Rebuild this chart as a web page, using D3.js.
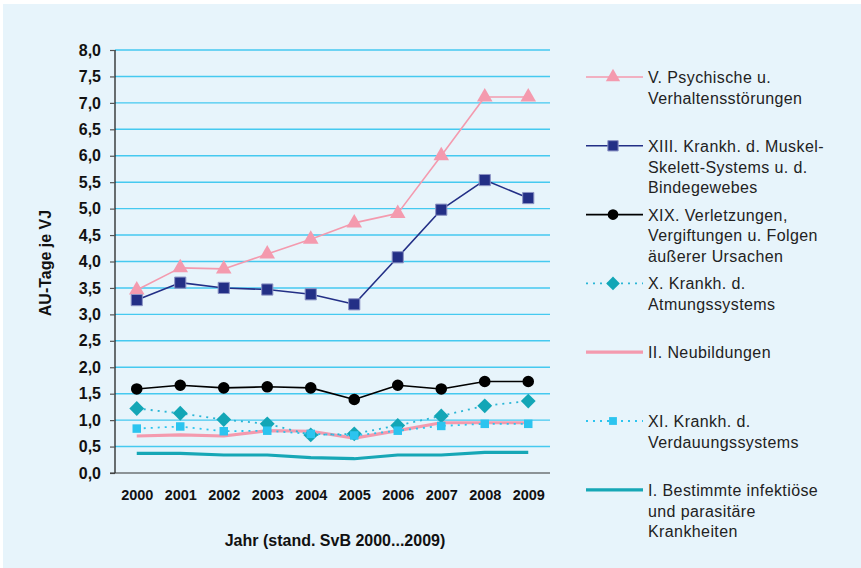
<!DOCTYPE html>
<html>
<head>
<meta charset="utf-8">
<script src="https://cdn.jsdelivr.net/npm/d3@7"></script>
<style>
  body { margin: 0; background: #ffffff; }
  svg { display: block; font-family: Arial, "Liberation Sans", sans-serif; }
</style>
</head>
<body>
<div id="chart"></div>
<script>
// data
var years = ["2000", "2001", "2002", "2003", "2004", "2005", "2006", "2007", "2008", "2009"];
var yTicks = [0, 0.5, 1, 1.5, 2, 2.5, 3, 3.5, 4, 4.5, 5, 5.5, 6, 6.5, 7, 7.5, 8];

var psychisch = [3.46, 3.88, 3.86, 4.14, 4.42, 4.73, 4.91, 6.0, 7.11, 7.11];
var muskelSkelett = [3.27, 3.60, 3.50, 3.47, 3.38, 3.19, 4.08, 4.98, 5.54, 5.20];
var verletzungen = [1.59, 1.66, 1.61, 1.63, 1.61, 1.39, 1.66, 1.59, 1.73, 1.73];
var atmung = [1.22, 1.13, 1.01, 0.93, 0.72, 0.74, 0.90, 1.08, 1.27, 1.36];
var neubildungen = [0.70, 0.72, 0.70, 0.80, 0.79, 0.66, 0.80, 0.95, 0.95, 0.95];
var verdauung = [0.84, 0.88, 0.79, 0.80, 0.74, 0.71, 0.80, 0.89, 0.93, 0.93];
var infektioes = [0.37, 0.37, 0.34, 0.34, 0.29, 0.27, 0.34, 0.34, 0.39, 0.39];

var legendLabels = [
  ["V. Psychische u.", "Verhaltensstörungen"],
  ["XIII. Krankh. d. Muskel-", "Skelett-Systems u. d.", "Bindegewebes"],
  ["XIX. Verletzungen,", "Vergiftungen u. Folgen", "äußerer Ursachen"],
  ["X. Krankh. d.", "Atmungssystems"],
  ["II. Neubildungen"],
  ["XI. Krankh. d.", "Verdauungssystems"],
  ["I. Bestimmte infektiöse", "und parasitäre", "Krankheiten"]
];

// series styles, in legend order
var series = [
  { values: psychisch, color: "#f49aae", width: 1.6, dash: null, symbol: d3.symbolTriangle, size: 105, rotate: 0, stroke: null },
  { values: muskelSkelett, color: "#232f86", width: 1.6, dash: null, symbol: d3.symbolSquare, size: 125, rotate: 0, stroke: "#8c93c4" },
  { values: verletzungen, color: "#000000", width: 1.6, dash: null, symbol: d3.symbolCircle, size: 105, rotate: 0, stroke: null },
  { values: atmung, color: "#13a6b6", lineColor: "#2bb6d6", width: 1.8, dash: "2,5", symbol: d3.symbolSquare, size: 110, rotate: 45, stroke: null },
  { values: neubildungen, color: "#f49aae", width: 3.2, dash: null, symbol: null },
  { values: verdauung, color: "#2cc4ef", lineColor: "#2cc4ef", width: 1.8, dash: "2,5", symbol: d3.symbolSquare, size: 72, rotate: 0, stroke: null },
  { values: infektioes, color: "#16a7b6", width: 3.2, dash: null, symbol: null }
];

var W = 861, H = 568;
var svg = d3.select("#chart").append("svg").attr("width", W).attr("height", H);

svg.append("rect").attr("x", 3).attr("y", 4).attr("width", W - 3).attr("height", H - 4).attr("fill", "#e7f4fb");

var x = d3.scalePoint().domain(years).range([115, 550]).padding(0.5);
var y = d3.scaleLinear().domain([0, 8]).range([473, 50]);

// gridlines
svg.append("g").selectAll("line").data(yTicks.filter(function (d) { return d > 0; })).enter().append("line")
  .attr("x1", 115).attr("x2", 550)
  .attr("y1", function (d) { return y(d); }).attr("y2", function (d) { return y(d); })
  .attr("stroke", "#45c9f0").attr("stroke-width", 1.4);

// y axis
var yAxis = svg.append("g").attr("transform", "translate(115,0)")
  .call(d3.axisLeft(y).tickValues(yTicks).tickSize(5).tickPadding(9)
    .tickFormat(function (d) { return d3.format(".1f")(d).replace(".", ","); }));
yAxis.select(".domain").attr("stroke", "#111").attr("stroke-width", 1.2).attr("d", "M0," + y(8) + "V" + y(0));
yAxis.selectAll(".tick line").attr("stroke", "#555").attr("stroke-width", 1.2);
yAxis.selectAll("text").attr("font-size", 16).attr("font-weight", "bold").attr("fill", "#111").attr("font-family", "Arial, 'Liberation Sans', sans-serif");

// x axis
var xAxis = svg.append("g").attr("transform", "translate(0," + y(0) + ")")
  .call(d3.axisBottom(x).tickSize(0).tickPadding(17));
xAxis.select(".domain").attr("stroke", "#333").attr("stroke-width", 1.2).attr("d", "M110,0H550");
xAxis.selectAll("text").attr("font-size", 14.5).attr("font-weight", "bold").attr("fill", "#111").attr("font-family", "Arial, 'Liberation Sans', sans-serif");

// axis titles
svg.append("text").attr("x", 335).attr("y", 546).attr("text-anchor", "middle")
  .attr("font-size", 16).attr("font-weight", "bold").attr("fill", "#111")
  .text("Jahr (stand. SvB 2000...2009)");
svg.append("text").attr("transform", "translate(51,263) rotate(-90)").attr("text-anchor", "middle")
  .attr("font-size", 16).attr("font-weight", "bold").attr("fill", "#111")
  .text("AU-Tage je VJ");

var line = d3.line().x(function (d, i) { return x(years[i]); }).y(function (d) { return y(d); });

var drawOrder = [0, 1, 2, 4, 6, 3, 5];
drawOrder.forEach(function (k) {
  var s = series[k];
  var g = svg.append("g");
  g.append("path").datum(s.values).attr("d", line).attr("fill", "none")
    .attr("stroke", s.lineColor || s.color).attr("stroke-width", s.width)
    .attr("stroke-dasharray", s.dash).attr("stroke-linejoin", "round");
  if (s.symbol) {
    g.selectAll("path.m").data(s.values).enter().append("path").attr("class", "m")
      .attr("d", d3.symbol().type(s.symbol).size(s.size))
      .attr("transform", function (d, i) { return "translate(" + x(years[i]) + "," + y(d) + ") rotate(" + s.rotate + ")"; })
      .attr("fill", s.color)
      .attr("stroke", s.stroke || "none").attr("stroke-width", 1);
  }
});

// legend
var legend = svg.append("g");
series.forEach(function (s, k) {
  var ly = 77 + k * 68.8;
  legend.append("line").attr("x1", 586).attr("x2", 643).attr("y1", ly).attr("y2", ly)
    .attr("stroke", s.lineColor || s.color).attr("stroke-width", s.width).attr("stroke-dasharray", s.dash);
  if (s.symbol) {
    legend.append("path").attr("d", d3.symbol().type(s.symbol).size(s.size * 0.85))
      .attr("transform", "translate(613," + ly + ") rotate(" + s.rotate + ")")
      .attr("fill", s.color).attr("stroke", s.stroke || "none");
  }
  var t = legend.append("text").attr("x", 648).attr("y", ly + 6)
    .attr("font-size", 16).attr("fill", "#222").attr("letter-spacing", 0.4);
  legendLabels[k].forEach(function (txt, j) {
    t.append("tspan").attr("x", 648).attr("dy", j === 0 ? 0 : 20.8).text(txt);
  });
});
</script>
</body>
</html>
